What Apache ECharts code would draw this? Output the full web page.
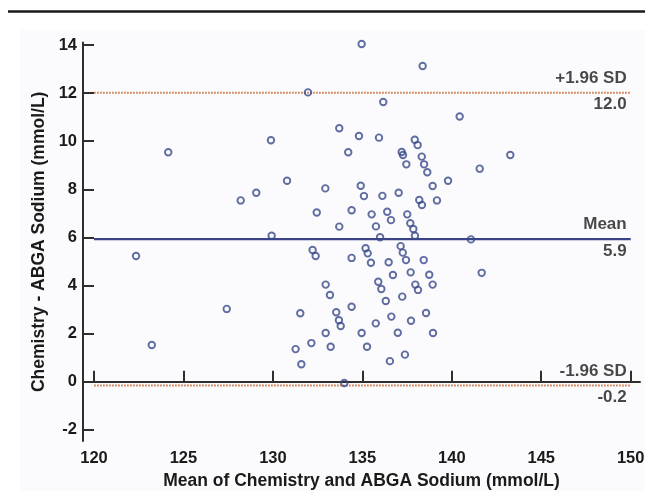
<!DOCTYPE html>
<html>
<head>
<meta charset="utf-8">
<script src="https://cdn.jsdelivr.net/npm/echarts@6/dist/echarts.min.js"></script>
<style>
html,body{margin:0;padding:0;background:#ffffff;}
#chart{width:645px;height:491px;}
</style>
</head>
<body>
<div id="chart"></div>
<script>
// Mean of Chemistry and ABGA Sodium (x) and Chemistry - ABGA difference (y)
const meanSodium = [
  124.15,129.89,128.20,129.07,129.93,134.96,138.37,131.96,136.17,140.44,
  133.71,134.81,135.93,137.93,138.09,134.21,137.20,137.27,138.32,137.46,
  138.45,138.63,130.79,132.93,134.91,135.09,136.12,137.03,138.93,139.79,
  138.18,138.33,139.17,132.45,134.40,135.52,136.39,136.60,137.51,133.71,
  135.76,137.68,137.85,135.99,137.94,143.27,141.56,141.07,122.35,123.23,
  127.42,132.22,132.39,134.40,135.18,135.30,135.48,136.47,137.14,137.26,
  137.44,138.43,136.71,137.70,138.74,132.95,133.19,135.89,136.06,137.96,
  138.11,138.93,136.31,137.23,134.40,131.53,133.54,133.69,133.79,136.62,
  138.56,135.75,137.72,132.95,134.96,136.98,138.95,132.15,133.23,131.27,
  135.26,137.38,136.54,131.59,133.99,141.67
];
const diffSodium = [
  9.54,10.04,7.54,7.86,6.07,14.04,13.13,12.03,11.63,11.03,
  10.54,10.22,10.15,10.06,9.84,9.54,9.55,9.43,9.36,9.04,
  9.04,8.71,8.36,8.04,8.15,7.72,7.73,7.86,8.14,8.36,
  7.56,7.35,7.54,7.04,7.13,6.96,7.07,6.72,6.96,6.45,
  6.46,6.59,6.35,6.01,6.07,9.43,8.86,5.92,5.23,1.53,
  3.03,5.48,5.23,5.15,5.55,5.34,4.95,4.97,5.64,5.37,
  5.06,5.06,4.44,4.55,4.45,4.04,3.61,4.16,3.86,4.04,
  3.82,4.04,3.36,3.54,3.12,2.85,2.89,2.56,2.32,2.71,
  2.86,2.43,2.54,2.03,2.03,2.04,2.03,1.61,1.46,1.36,
  1.46,1.13,0.86,0.73,-0.05,4.53
];
const xTicks = [120,125,130,135,140,145,150];
const yTicks = [-2,0,2,4,6,8,10,12,14];
const limitValues = [12.02, 5.93, -0.15];
const limitNames = ['+1.96 SD','Mean','-1.96 SD'];
const limitLabels = ['12.0','5.9','-0.2'];

const FONT = '"Liberation Sans", Arial, Helvetica, sans-serif';
const TXT = '#1a1a1a';
const lineStart = xTicks[0], lineEnd = xTicks[xTicks.length - 1];

const points = meanSodium.map((m, i) => [m, diffSodium[i]]);

const limitLineStyles = [
  {color:'#d4875a', width:2, type:[1.8,1.2]},
  {color:'#3b4488', width:2.2, type:'solid'},
  {color:'#d4875a', width:2, type:[1.8,1.2]}
];

const series = [];
limitValues.forEach((v, i) => {
  series.push({
    type:'line', silent:true, symbol:'none', z:2,
    data:[[lineStart, v],[lineEnd, v]],
    lineStyle: limitLineStyles[i]
  });
});
const labelBase = {show:true, position:'left', distance:4, color:TXT,
  fontFamily:FONT, fontWeight:'bold', fontSize:17};
series.push({
  type:'scatter', silent:true, symbolSize:0, z:5,
  data: limitValues.map((v, i) => ({value:[lineEnd, v], name:limitNames[i]})),
  label: Object.assign({}, labelBase, {offset:[0,-14.5], formatter: p => p.name})
});
series.push({
  type:'scatter', silent:true, symbolSize:0, z:5,
  data: limitValues.map((v, i) => ({value:[lineEnd, v], name:limitLabels[i]})),
  label: Object.assign({}, labelBase, {offset:[0,12], formatter: p => p.name})
});
series.push({
  type:'scatter', z:4, symbol:'circle', symbolSize:6.5,
  data: points,
  itemStyle:{color:'rgba(255,255,255,0)', borderColor:'#3a4a8a', borderWidth:1.9}
});

const chart = echarts.init(document.getElementById('chart'), null, {renderer:'canvas'});
chart.setOption({
  animation:false,
  backgroundColor:'#ffffff',
  graphic:[
    {type:'rect', z:-10, shape:{x:20, y:30, width:625, height:461}, style:{fill:'#fbfbfd'}},
    {type:'line', z:10, shape:{x1:8, y1:11.5, x2:645, y2:11.5}, style:{stroke:'#1a1a1a', lineWidth:2.6}}
  ],
  grid:{left:83, right:5, top:42.6, bottom:50, outerBoundsMode:'none', containLabel:false},
  xAxis:{
    type:'value', min:119.385, max:150.52,
    name:'Mean of Chemistry and ABGA Sodium (mmol/L)',
    nameLocation:'middle', nameGap:27,
    nameTextStyle:{color:TXT, fontFamily:FONT, fontWeight:'bold', fontSize:17.5},
    axisLine:{show:true, lineStyle:{color:'#2e2e2e', width:2}},
    axisTick:{show:true, inside:true, length:11, customValues:xTicks, lineStyle:{color:'#2e2e2e', width:2}},
    axisLabel:{show:true, customValues:xTicks, margin:9, color:TXT, fontFamily:FONT, fontWeight:'bold', fontSize:16.5},
    splitLine:{show:false}
  },
  yAxis:{
    type:'value', min:-2.46, max:14.1,
    name:'Chemistry - ABGA Sodium (mmol/L)',
    nameLocation:'middle', nameGap:35, nameRotate:90,
    nameTextStyle:{color:TXT, fontFamily:FONT, fontWeight:'bold', fontSize:17.5},
    axisLine:{show:true, lineStyle:{color:'#2e2e2e', width:2}},
    axisTick:{show:true, inside:true, length:11, customValues:yTicks, lineStyle:{color:'#2e2e2e', width:2}},
    axisLabel:{show:true, customValues:yTicks, margin:6, color:TXT, fontFamily:FONT, fontWeight:'bold', fontSize:16.5},
    splitLine:{show:false}
  },
  series: series
});
</script>
</body>
</html>
